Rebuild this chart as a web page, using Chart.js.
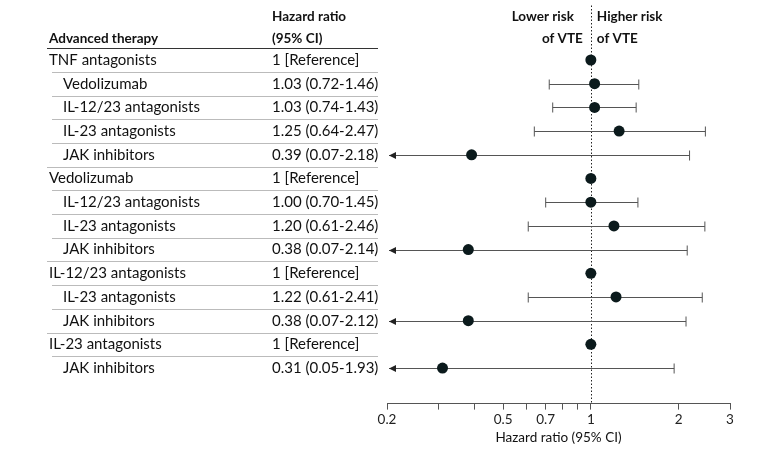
<!DOCTYPE html>
<html>
<head>
<meta charset="utf-8">
<script src="https://cdn.jsdelivr.net/npm/chart.js@4"></script>
<style>
  html, body { margin: 0; padding: 0; background: #fff; }
  #wrap { width: 783px; height: 454px; }
</style>
</head>
<body>
<div id="wrap"><canvas id="forest" width="783" height="454"></canvas></div>
<script>
const therapies = ["TNF antagonists", "Vedolizumab", "IL-12/23 antagonists", "IL-23 antagonists", "JAK inhibitors",
    "Vedolizumab", "IL-12/23 antagonists", "IL-23 antagonists", "JAK inhibitors",
    "IL-12/23 antagonists", "IL-23 antagonists", "JAK inhibitors",
    "IL-23 antagonists", "JAK inhibitors"];
const isReference = [1, 0, 0, 0, 0, 1, 0, 0, 0, 1, 0, 0, 1, 0];
const hazardRatio = [1, 1.03, 1.03, 1.25, 0.39, 1, 1.00, 1.20, 0.38, 1, 1.22, 0.38, 1, 0.31];
const ciLow = [null, 0.72, 0.74, 0.64, 0.07, null, 0.70, 0.61, 0.07, null, 0.61, 0.07, null, 0.05];
const ciHigh = [null, 1.46, 1.43, 2.47, 2.18, null, 1.45, 2.46, 2.14, null, 2.41, 2.12, null, 1.93];
const xTicks = [0.2, 0.3, 0.4, 0.5, 0.6, 0.7, 0.8, 0.9, 1, 2, 3];
const xLabelled = [0.2, 0.5, 0.7, 1, 2, 3];

const FONT = "Lato, 'Open Sans', sans-serif";

function hrText(i) {
    if (isReference[i]) return "1 [Reference]";
    return hazardRatio[i].toFixed(2) + " (" + ciLow[i].toFixed(2) + "-" + ciHigh[i].toFixed(2) + ")";
}

// table text, separators, reference line and CI bars
const forestPlugin = {
    id: "forest",
    beforeDatasetsDraw(chart) {
        const { ctx, chartArea, scales: { x, y } } = chart;
        const xmin = x.min;
        ctx.save();

        // dotted line at HR = 1
        const x1 = Math.round(x.getPixelForValue(1)) + 0.5;
        ctx.strokeStyle = "#222";
        ctx.lineWidth = 1;
        ctx.setLineDash([1.5, 2]);
        ctx.beginPath();
        ctx.moveTo(x1, chartArea.top);
        ctx.lineTo(x1, chartArea.bottom);
        ctx.stroke();
        ctx.setLineDash([]);

        // CI bars
        ctx.strokeStyle = "#555";
        ctx.fillStyle = "#222";
        therapies.forEach((t, i) => {
            if (isReference[i]) return;
            const py = Math.round(y.getPixelForValue(i)) + 0.5;
            const pHi = x.getPixelForValue(ciHigh[i]);
            const clipped = ciLow[i] < xmin;
            const pLo = clipped ? x.getPixelForValue(xmin) + 2 : x.getPixelForValue(ciLow[i]);
            ctx.beginPath();
            ctx.moveTo(pLo, py);
            ctx.lineTo(pHi, py);
            ctx.moveTo(pHi, py - 5);
            ctx.lineTo(pHi, py + 5);
            if (!clipped) {
                ctx.moveTo(pLo, py - 5);
                ctx.lineTo(pLo, py + 5);
            }
            ctx.stroke();
            if (clipped) {
                ctx.beginPath();
                ctx.moveTo(pLo, py);
                ctx.lineTo(pLo + 7, py - 3.5);
                ctx.lineTo(pLo + 7, py + 3.5);
                ctx.closePath();
                ctx.fill();
            }
        });
        ctx.restore();
    },
    afterDraw(chart) {
        const { ctx, scales: { x, y } } = chart;
        const y0 = y.getPixelForValue(0);
        const step = y.getPixelForValue(1) - y0;
        const colName = 49, colIndent = 63, colHr = 272, tableRight = 378;
        ctx.save();
        ctx.textBaseline = "middle";
        ctx.fillStyle = "#111";

        // header
        ctx.font = "bold 13.5px " + FONT;
        ctx.fillText("Advanced therapy", colName, y0 - 21);
        ctx.fillText("Hazard ratio", colHr, y0 - 43);
        ctx.fillText("(95% CI)", colHr, y0 - 21);

        const x1 = x.getPixelForValue(1);
        ctx.textAlign = "right";
        ctx.fillText("Lower risk", x1 - 17, y0 - 43);
        ctx.fillText("of VTE", x1 - 8, y0 - 21);
        ctx.textAlign = "left";
        ctx.fillText("Higher risk", x1 + 6, y0 - 43);
        ctx.fillText("of VTE", x1 + 6, y0 - 21);

        ctx.strokeStyle = "#333";
        ctx.lineWidth = 1;
        ctx.beginPath();
        ctx.moveTo(47, Math.round(y0 - step / 2) + 0.5);
        ctx.lineTo(tableRight, Math.round(y0 - step / 2) + 0.5);
        ctx.stroke();

        // rows
        ctx.font = "15px " + FONT;
        therapies.forEach((t, i) => {
            const py = y.getPixelForValue(i);
            ctx.fillStyle = "#111";
            ctx.fillText(t, isReference[i] ? colName : colIndent, py);
            ctx.fillText(hrText(i), colHr, py);
            if (i < therapies.length - 1) {
                const ly = Math.round(py + step / 2) + 0.5;
                ctx.strokeStyle = "#bbb";
                ctx.beginPath();
                ctx.moveTo(isReference[i + 1] ? 47 : 52, ly);
                ctx.lineTo(tableRight, ly);
                ctx.stroke();
            }
        });
        ctx.restore();
    }
};

new Chart(document.getElementById("forest").getContext("2d"), {
    type: "scatter",
    data: {
        datasets: [{
            data: hazardRatio.map((v, i) => ({ x: v, y: i })),
            pointRadius: 5.5,
            pointHoverRadius: 5.5,
            pointBackgroundColor: "#0b1a1c",
            pointBorderColor: "#0b1a1c",
            pointBorderWidth: 0
        }]
    },
    options: {
        responsive: false,
        animation: false,
        events: [],
        layout: { padding: { left: 387, right: 53, top: 5, bottom: 8 } },
        plugins: { legend: { display: false }, tooltip: { enabled: false } },
        scales: {
            x: {
                type: "logarithmic",
                min: 0.2,
                max: 3,
                afterBuildTicks(axis) { axis.ticks = xTicks.map(v => ({ value: v })); },
                ticks: {
                    autoSkip: false,
                    maxRotation: 0,
                    color: "#222",
                    font: { family: FONT, size: 13.5 },
                    padding: 2,
                    callback: v => xLabelled.includes(v) ? String(v) : ""
                },
                grid: { drawOnChartArea: false, drawTicks: true, tickLength: 6, color: "#555" },
                border: { color: "#555", width: 1 },
                title: { display: true, text: "Hazard ratio (95% CI)", color: "#111", font: { family: FONT, size: 13.5 }, padding: { top: 0, bottom: 0 } }
            },
            y: {
                display: false,
                reverse: true,
                min: -2.3,
                max: 14.5
            }
        }
    },
    plugins: [forestPlugin]
});
</script>
</body>
</html>
